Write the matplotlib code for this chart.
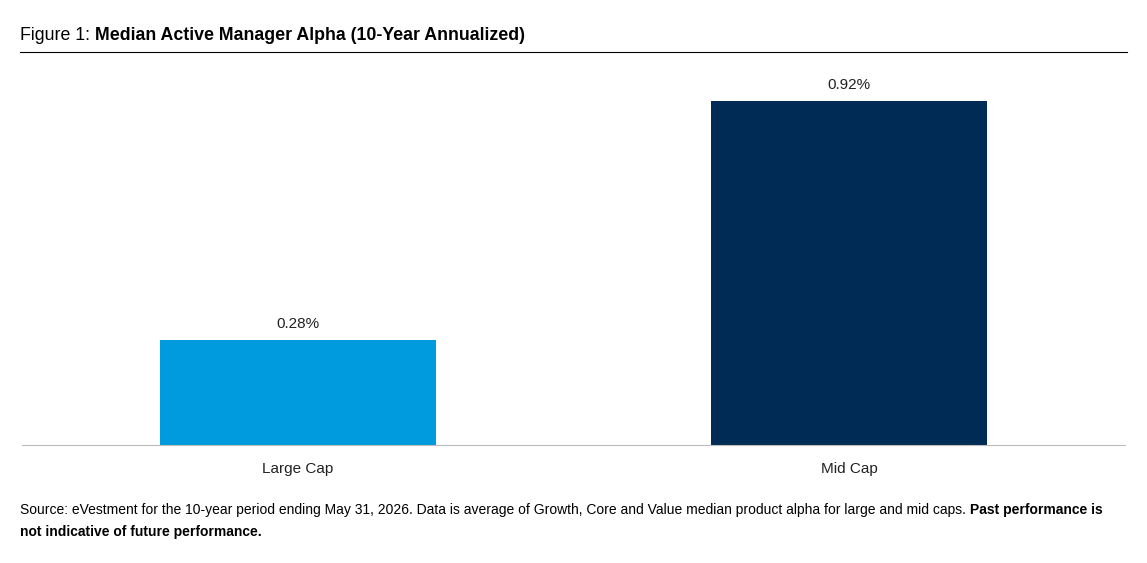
import matplotlib.pyplot as plt

# data
categories = ['Large Cap', 'Mid Cap']
alpha = [0.28, 0.92]
labels = ['0.28%', '0.92%']
colors = ['#009ADE', '#002B54']

plt.rcParams['font.family'] = ['Liberation Sans', 'DejaVu Sans']

fig = plt.figure(figsize=(11.47, 5.63), dpi=100)
ax = fig.add_axes([22/1147, 118/563, 1103/1147, 374/563])

x = range(len(categories))
bars = ax.bar(x, alpha, width=0.5, color=colors)
for b, lab in zip(bars, labels):
    ax.text(b.get_x() + b.get_width()/2, b.get_height() + 0.025, lab,
            ha='center', va='bottom', fontsize=11, color='#222222')

ax.set_xlim(-0.5, 1.5)
ax.set_ylim(0, 1.0)
ax.set_xticks(list(x))
ax.set_xticklabels(categories, fontsize=11, color='#222222')
ax.tick_params(axis='x', length=0, pad=12)
ax.set_yticks([])
for s in ['top', 'right', 'left']:
    ax.spines[s].set_visible(False)
ax.spines['bottom'].set_color('#bbbbbb')

# title and rule
t = fig.text(20/1147, 1 - 35/563, 'Figure 1: ', fontsize=12.8, va='center', ha='left')
ax.annotate('Median Active Manager Alpha (10-Year Annualized)', xy=(1, 0.5), xycoords=t,
            va='center', ha='left', fontsize=12.8, fontweight='bold', annotation_clip=False)
fig.add_artist(plt.Line2D([20/1147, 1127/1147], [1 - 52/563] * 2, color='black', lw=0.8))

# footnote
s = fig.text(20/1147, 1 - 510/563,
             'Source: eVestment for the 10-year period ending May 31, 2026. Data is average of Growth, '
             'Core and Value median product alpha for large and mid caps. ',
             fontsize=10.0, va='center', ha='left')
ax.annotate('Past performance is', xy=(1, 0.5), xycoords=s, va='center', ha='left',
            fontsize=10.0, fontweight='bold', annotation_clip=False)
fig.text(20/1147, 1 - 532/563, 'not indicative of future performance.', fontsize=10.0,
         fontweight='bold', va='center', ha='left')

fig.savefig('out.png', dpi=100)
